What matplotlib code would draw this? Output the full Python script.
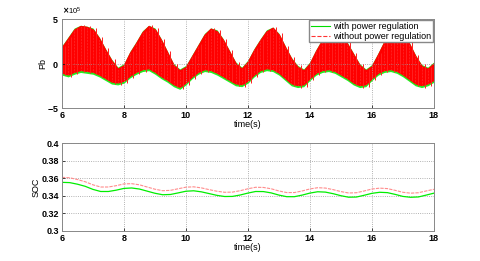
import matplotlib
matplotlib.use("Agg")
import matplotlib.pyplot as plt
import matplotlib.ticker as mticker
import numpy as np

# time base of the envelope readings (s)
t_env = [6.0 + 0.2 * i for i in range(61)]

# Pb envelope (x 1e5 W)
red_up = [1.8, 2.8, 3.8, 4.2, 4.1, 3.8, 2.8, 1.5, 0.3, -0.6,
          -0.2, 1.2, 2.3, 3.5, 4.2, 3.8, 2.6, 1.2, -0.2, -0.8,
          -0.4, 0.8, 2.0, 3.2, 3.9, 3.6, 2.6, 1.3, 0.0, -0.6,
          0.2, 1.5, 2.6, 3.6, 4.0, 3.2, 1.8, 0.5, -0.4, -0.8,
          0.0, 1.4, 2.6, 3.3, 3.6, 3.2, 2.2, 1.0, -0.2, -0.8,
          -0.3, 1.0, 2.4, 3.4, 3.6, 3.3, 2.2, 0.8, -0.3, -0.6, 0.0]
red_lo = [-1.0, -1.2, -0.9, -0.7, -0.8, -0.9, -1.2, -1.6, -2.0, -2.1,
          -1.9, -1.3, -0.9, -0.6, -0.5, -0.9, -1.4, -1.8, -2.3, -2.6,
          -2.1, -1.4, -0.9, -0.6, -0.7, -1.0, -1.4, -1.8, -2.2, -2.3,
          -1.9, -1.2, -0.7, -0.5, -0.6, -1.0, -1.6, -2.2, -2.4, -2.3,
          -1.6, -1.0, -0.7, -0.6, -0.8, -1.2, -1.6, -2.1, -2.4, -2.3,
          -1.6, -1.0, -0.7, -0.6, -0.8, -1.2, -1.7, -2.2, -2.4, -2.2, -1.8]
green_up = [2.0, 3.0, 4.0, 4.3, 4.2, 4.0, 3.0, 1.7, 0.5, -0.4,
            0.0, 1.4, 2.5, 3.7, 4.3, 4.0, 2.8, 1.4, 0.0, -0.6,
            -0.2, 1.0, 2.2, 3.4, 4.0, 3.8, 2.8, 1.5, 0.2, -0.4,
            0.4, 1.7, 2.8, 3.8, 4.1, 3.4, 2.0, 0.7, -0.2, -0.6,
            0.2, 1.6, 2.8, 3.5, 3.8, 3.4, 2.4, 1.2, 0.0, -0.6,
            -0.1, 1.2, 2.6, 3.6, 3.8, 3.5, 2.4, 1.0, -0.1, -0.4, 0.2]
green_lo = [-1.3, -1.5, -1.2, -1.0, -1.1, -1.2, -1.5, -1.9, -2.3, -2.4,
            -2.2, -1.6, -1.2, -0.9, -0.8, -1.2, -1.7, -2.1, -2.6, -2.9,
            -2.4, -1.7, -1.2, -0.9, -1.0, -1.3, -1.7, -2.1, -2.5, -2.6,
            -2.2, -1.5, -1.0, -0.8, -0.9, -1.3, -1.9, -2.5, -2.7, -2.6,
            -1.9, -1.3, -1.0, -0.9, -1.1, -1.5, -1.9, -2.4, -2.7, -2.6,
            -1.9, -1.3, -1.0, -0.9, -1.1, -1.5, -2.0, -2.5, -2.7, -2.5, -2.1]

# SOC
t_soc = [6.0 + 0.25 * i for i in range(49)]
soc_without = [0.3610, 0.3605, 0.3585, 0.3560, 0.3525, 0.3500, 0.3500, 0.3515, 0.3535, 0.3538,
               0.3525, 0.3500, 0.3475, 0.3458, 0.3462, 0.3480, 0.3498, 0.3502, 0.3490, 0.3470,
               0.3452, 0.3440, 0.3442, 0.3458, 0.3480, 0.3497, 0.3495, 0.3480, 0.3455, 0.3437,
               0.3437, 0.3455, 0.3478, 0.3492, 0.3488, 0.3470, 0.3448, 0.3432, 0.3435, 0.3455,
               0.3477, 0.3487, 0.3482, 0.3462, 0.3440, 0.3430, 0.3435, 0.3455, 0.3474]
soc_with = [0.3553, 0.3550, 0.3532, 0.3508, 0.3473, 0.3449, 0.3449, 0.3464, 0.3484, 0.3489,
            0.3477, 0.3453, 0.3429, 0.3412, 0.3415, 0.3433, 0.3452, 0.3457, 0.3445, 0.3425,
            0.3405, 0.3392, 0.3393, 0.3409, 0.3431, 0.3449, 0.3448, 0.3433, 0.3408, 0.3390,
            0.3390, 0.3408, 0.3431, 0.3446, 0.3442, 0.3424, 0.3401, 0.3384, 0.3386, 0.3406,
            0.3428, 0.3440, 0.3436, 0.3416, 0.3393, 0.3383, 0.3387, 0.3408, 0.3430]

plt.rcParams['font.family'] = ['Liberation Sans', 'DejaVu Sans']
plt.rcParams['font.size'] = 6.5
plt.rcParams['font.weight'] = 'bold'

fig = plt.figure(figsize=(4.8, 2.61), dpi=100)
ax1 = fig.add_axes([0.129, 0.586, 0.775, 0.341])
ax2 = fig.add_axes([0.129, 0.115, 0.775, 0.337])

scale = 1e5
t = np.array(t_env)
ax1.fill_between(t, np.array(green_lo) * scale, np.array(green_up) * scale,
                 color='#22ee22', lw=0)
ax1.fill_between(t, np.array(red_lo) * scale, np.array(red_up) * scale,
                 facecolor='#ff0000', edgecolor='#ff0000', lw=1.2)
# spiky texture of the switching signal
ax1.vlines(t + 0.1, np.array(green_lo) * scale, np.array(green_up) * scale,
           color='#ff2020', lw=0.7)
ax1.vlines(t, np.array(red_lo) * scale, np.array(red_up) * scale,
           color='#ff6060', lw=0.4, linestyles=':')
ax1.plot([], [], color='#00dd00', lw=0.8, label='with power regulation')
ax1.plot([], [], color='#ff3333', lw=0.8, ls='--', label='without power regulation')
ax1.set_ylim(-5e5, 5e5)
ax1.set_yticks([-5e5, 0, 5e5])
fmt = mticker.ScalarFormatter(useMathText=True)
fmt.set_powerlimits((0, 0))
ax1.yaxis.set_major_formatter(fmt)
ax1.yaxis.get_offset_text().set_fontsize(5.5)
ax1.yaxis.get_offset_text().set_fontweight('normal')
ax1.set_ylabel('Pb', labelpad=0)
ax1.set_xlabel('time(s)', labelpad=0)
leg = ax1.legend(loc='upper right', fontsize=6.5, handlelength=2.2,
                 borderpad=0.2, labelspacing=0.1, handletextpad=0.3,
                 fancybox=False, edgecolor='#888888', framealpha=1,
                 borderaxespad=0.1)
for txt in leg.get_texts():
    txt.set_fontweight('normal')

ax2.plot(t_soc, soc_without, color='#ff8c8c', lw=0.8, ls=(0, (3, 1)))
ax2.plot(t_soc, soc_with, color='#00ee00', lw=0.9)
ax2.set_ylim(0.3, 0.4)
ax2.set_yticks([0.3, 0.32, 0.34, 0.36, 0.38, 0.4])
ax2.yaxis.set_major_formatter(mticker.FormatStrFormatter('%g'))
ax2.set_ylabel('SOC', labelpad=1)
ax2.set_xlabel('time(s)', labelpad=0)

for ax in (ax1, ax2):
    ax.set_xlim(6, 18)
    ax.set_xticks([6, 8, 10, 12, 14, 16, 18])
    ax.grid(True, color='#999999', ls=':', lw=0.6)
    ax.tick_params(direction='in', length=2, width=0.5, pad=2, labelsize=6.5)
    for s in ax.spines.values():
        s.set_color('#888888')
        s.set_linewidth(0.7)

fig.savefig('out.png', dpi=100, facecolor='white')
